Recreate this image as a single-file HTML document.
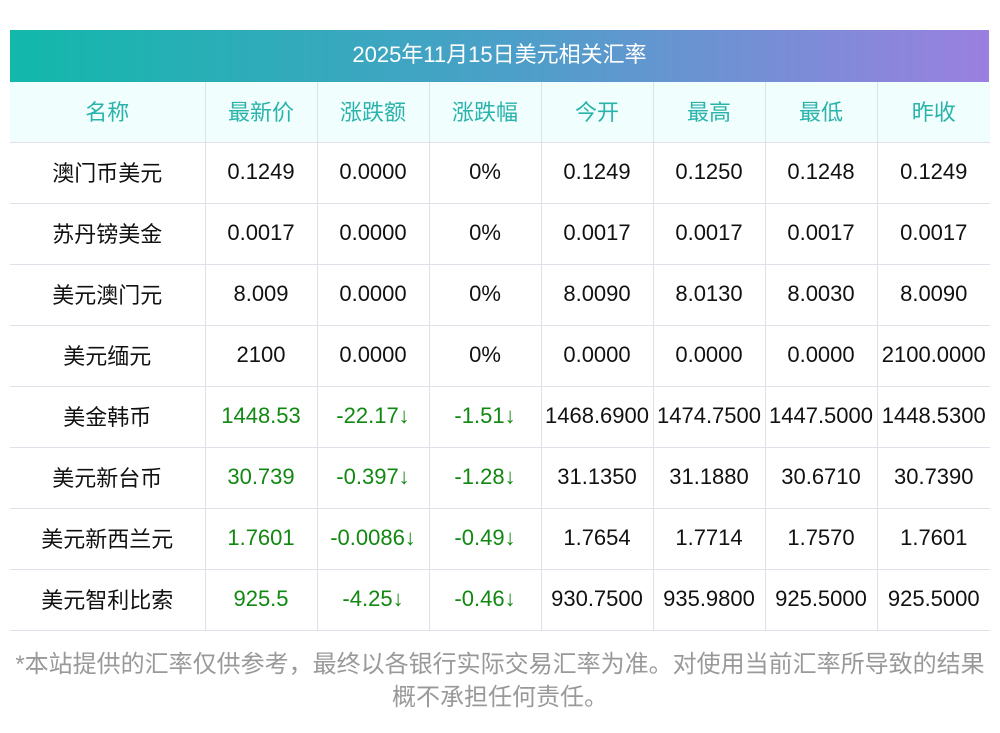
<!DOCTYPE html>
<html><head><meta charset="utf-8"><style>
body{margin:0;background:#fff;width:1000px;height:733px;position:relative;font-family:"Liberation Sans","Noto Sans CJK SC",sans-serif;}
.t{position:absolute;left:10px;top:30px;width:979px;height:52px;background:linear-gradient(90deg,#12b8aa,#4aa0c8 50%,#9a80e0);color:#fff;font-size:22px;line-height:50px;text-align:center;}
table{position:absolute;left:10px;top:82px;border-collapse:collapse;width:980px;table-layout:fixed;}
td{border:1px solid #e0e0e8;height:57px;padding:0 0 3px 0;text-align:center;font-size:22px;color:#111;white-space:nowrap;overflow:visible;}
tr:first-child td{border-top:none;background:#f0fefe;color:#2ab3ab;}
td:first-child{border-left:none;}td:last-child{border-right:none;}
.g{color:#118811;}
.n{position:absolute;left:0;top:648px;width:1000px;text-align:center;font-size:24px;line-height:33px;color:#999;white-space:nowrap;}
</style></head><body>
<div class="t">2025年11月15日美元相关汇率</div>
<table>
<colgroup><col style="width:195px"><col style="width:112px"><col style="width:112px"><col style="width:112px"><col style="width:112px"><col style="width:112px"><col style="width:112px"><col style="width:113px"></colgroup>
<tr><td>名称</td><td>最新价</td><td>涨跌额</td><td>涨跌幅</td><td>今开</td><td>最高</td><td>最低</td><td>昨收</td></tr>
<tr><td>澳门币美元</td><td>0.1249</td><td>0.0000</td><td>0%</td><td>0.1249</td><td>0.1250</td><td>0.1248</td><td>0.1249</td></tr>
<tr><td>苏丹镑美金</td><td>0.0017</td><td>0.0000</td><td>0%</td><td>0.0017</td><td>0.0017</td><td>0.0017</td><td>0.0017</td></tr>
<tr><td>美元澳门元</td><td>8.009</td><td>0.0000</td><td>0%</td><td>8.0090</td><td>8.0130</td><td>8.0030</td><td>8.0090</td></tr>
<tr><td>美元缅元</td><td>2100</td><td>0.0000</td><td>0%</td><td>0.0000</td><td>0.0000</td><td>0.0000</td><td>2100.0000</td></tr>
<tr><td>美金韩币</td><td class="g">1448.53</td><td class="g">-22.17↓</td><td class="g">-1.51↓</td><td>1468.6900</td><td>1474.7500</td><td>1447.5000</td><td>1448.5300</td></tr>
<tr><td>美元新台币</td><td class="g">30.739</td><td class="g">-0.397↓</td><td class="g">-1.28↓</td><td>31.1350</td><td>31.1880</td><td>30.6710</td><td>30.7390</td></tr>
<tr><td>美元新西兰元</td><td class="g">1.7601</td><td class="g">-0.0086↓</td><td class="g">-0.49↓</td><td>1.7654</td><td>1.7714</td><td>1.7570</td><td>1.7601</td></tr>
<tr><td>美元智利比索</td><td class="g">925.5</td><td class="g">-4.25↓</td><td class="g">-0.46↓</td><td>930.7500</td><td>935.9800</td><td>925.5000</td><td>925.5000</td></tr>
</table>
<div class="n">*本站提供的汇率仅供参考，最终以各银行实际交易汇率为准。对使用当前汇率所导致的结果<br>概不承担任何责任。</div>
</body></html>
